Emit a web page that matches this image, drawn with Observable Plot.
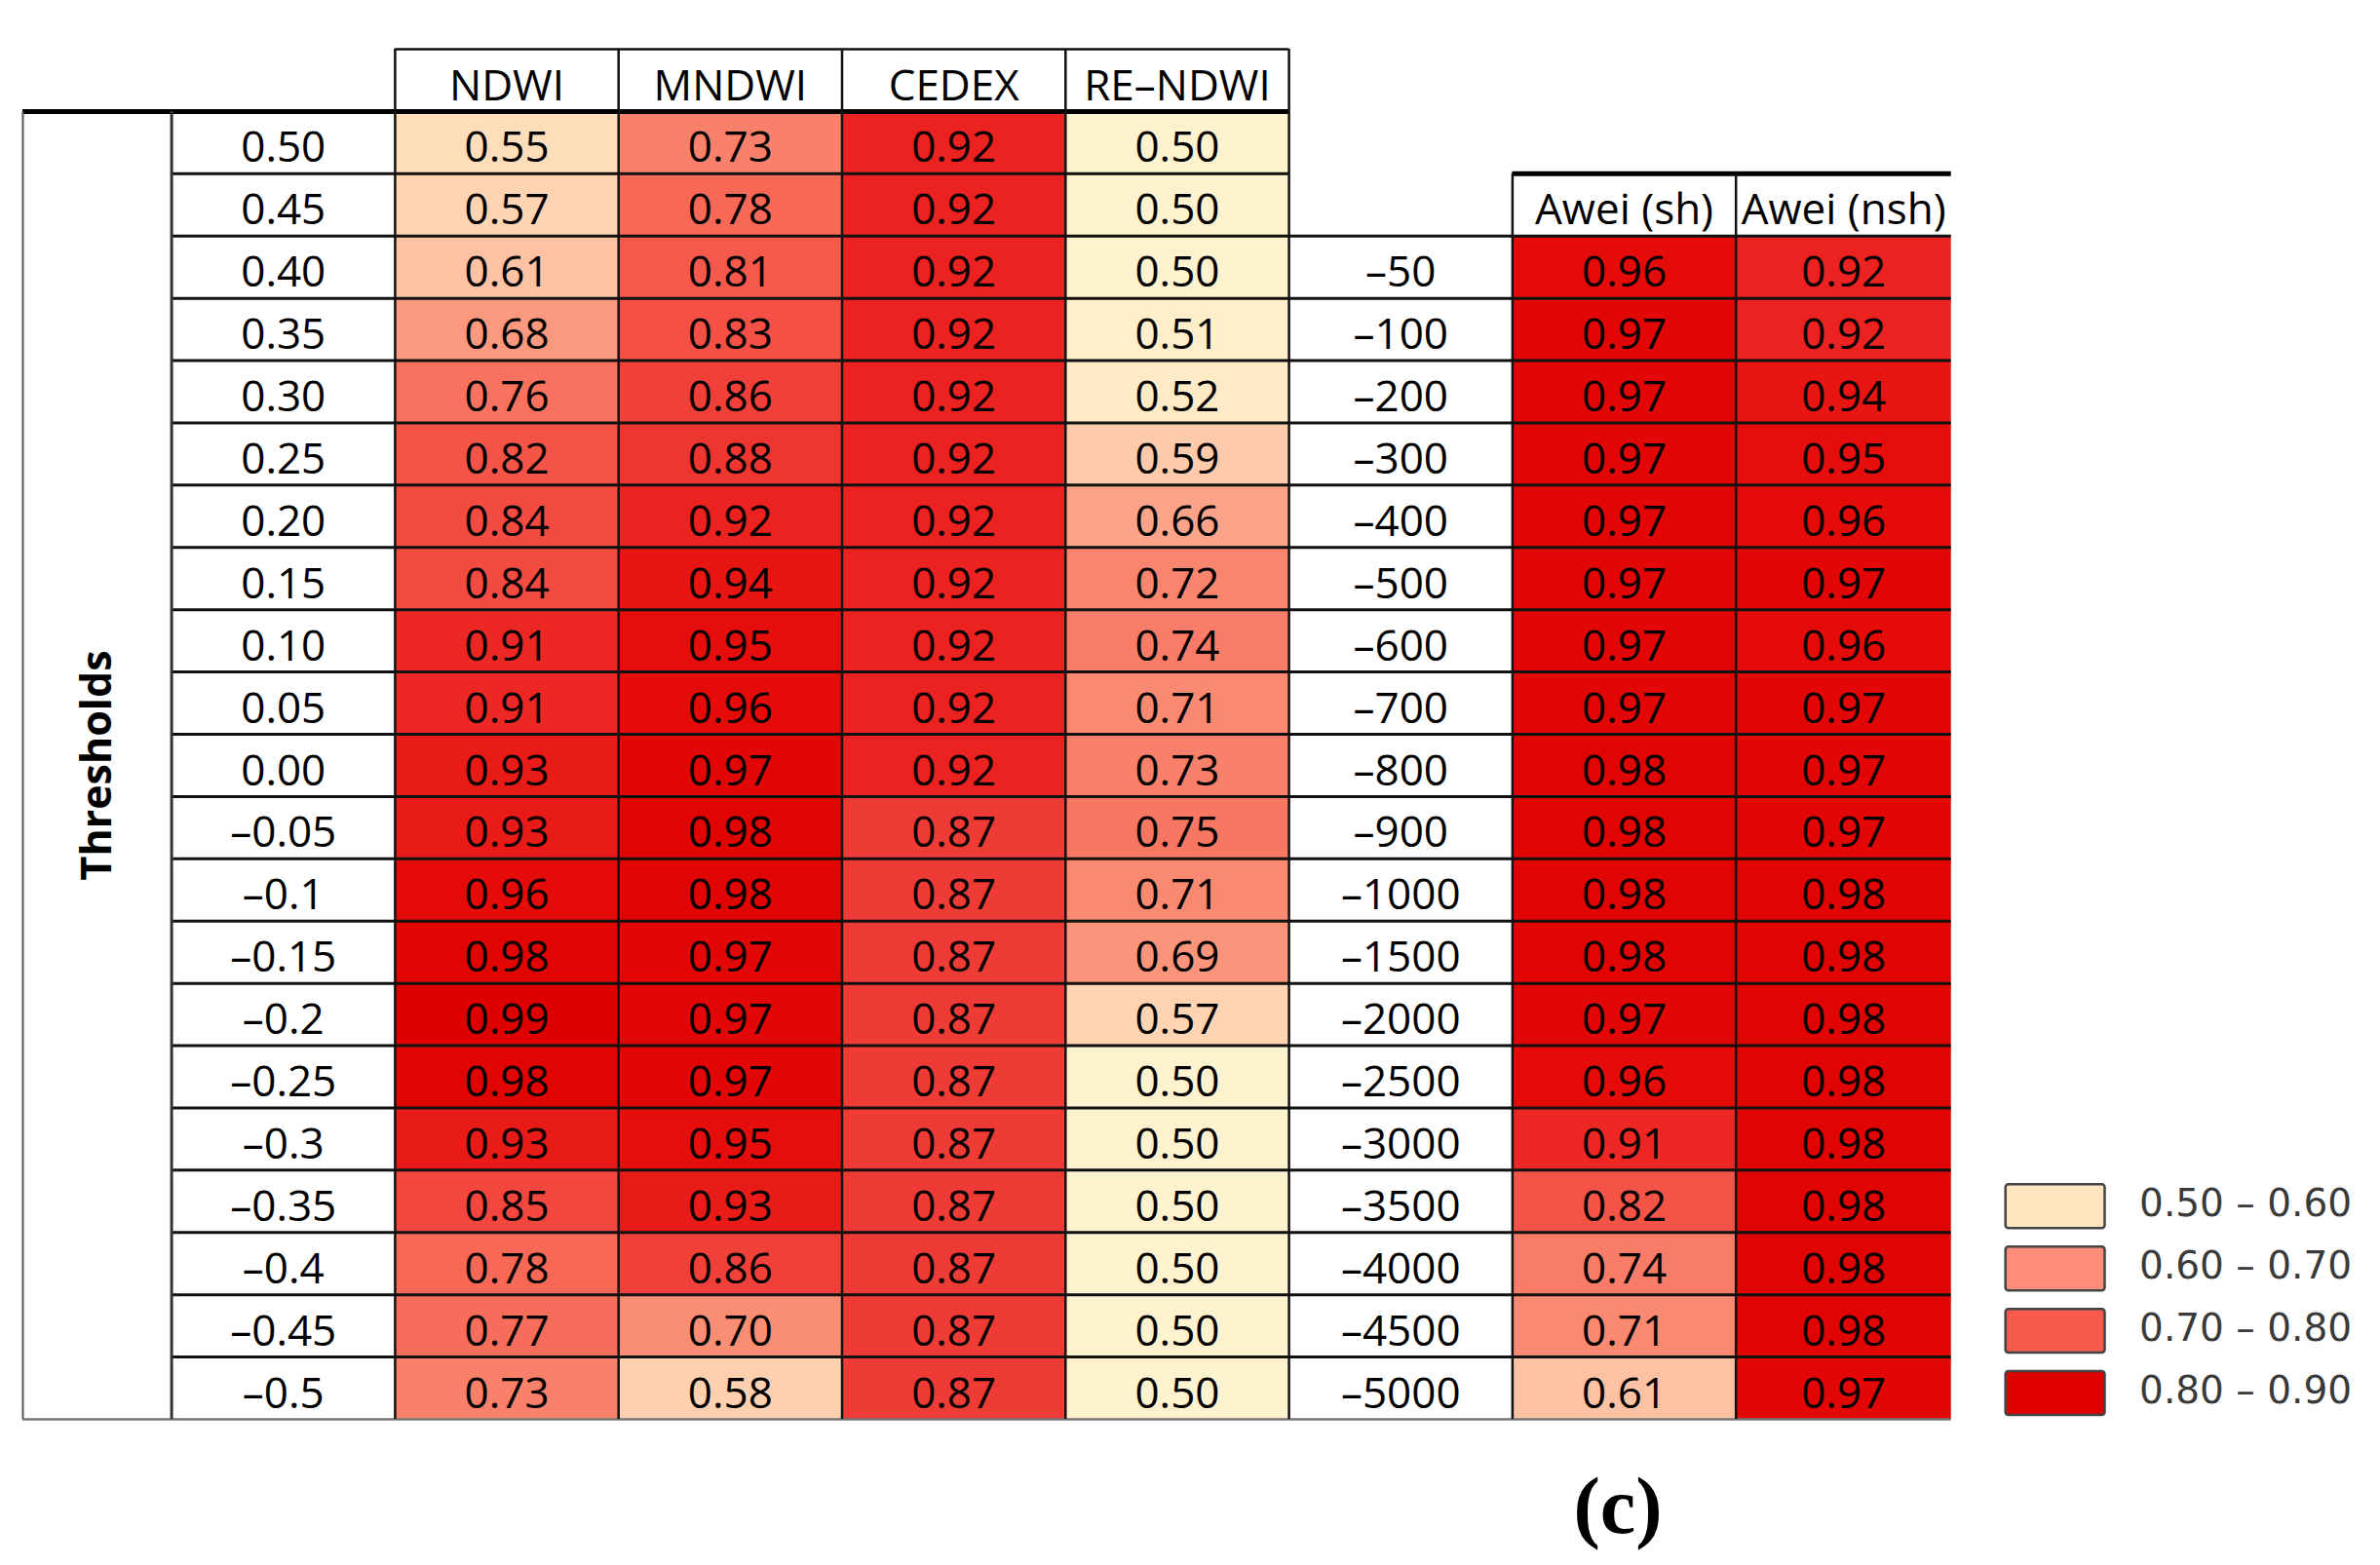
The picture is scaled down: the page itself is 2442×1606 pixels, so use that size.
<!DOCTYPE html>
<html>
<head>
<meta charset="utf-8">
<script src="https://cdn.jsdelivr.net/npm/d3@7"></script>
<script src="https://cdn.jsdelivr.net/npm/@observablehq/plot@0.6"></script>
<style>
  body { margin: 0; background: #fff; }
  #wrap { position: relative; width: 2442px; height: 1606px; }
  #cap { position: absolute; left: 1560px; width: 200px; top: 1496px; height: 100px;
         line-height: 100px; text-align: center; font-family: "Liberation Serif", serif;
         font-weight: bold; font-size: 82px; color: #000; }
</style>
</head>
<body>
<div id="wrap"><div id="chart"></div><div id="cap">(c)</div></div>
<script>
// ---------- data ----------
const leftHeaders = ["NDWI", "MNDWI", "CEDEX", "RE–NDWI"];
const thresholds = ["0.50","0.45","0.40","0.35","0.30","0.25","0.20","0.15","0.10","0.05","0.00",
  "–0.05","–0.1","–0.15","–0.2","–0.25","–0.3","–0.35","–0.4","–0.45","–0.5"];
const ndwi   = [0.55,0.57,0.61,0.68,0.76,0.82,0.84,0.84,0.91,0.91,0.93,0.93,0.96,0.98,0.99,0.98,0.93,0.85,0.78,0.77,0.73];
const mndwi  = [0.73,0.78,0.81,0.83,0.86,0.88,0.92,0.94,0.95,0.96,0.97,0.98,0.98,0.97,0.97,0.97,0.95,0.93,0.86,0.70,0.58];
const cedex  = [0.92,0.92,0.92,0.92,0.92,0.92,0.92,0.92,0.92,0.92,0.92,0.87,0.87,0.87,0.87,0.87,0.87,0.87,0.87,0.87,0.87];
const rendwi = [0.50,0.50,0.50,0.51,0.52,0.59,0.66,0.72,0.74,0.71,0.73,0.75,0.71,0.69,0.57,0.50,0.50,0.50,0.50,0.50,0.50];

const rightHeaders = ["Awei (sh)", "Awei (nsh)"];
const aweiThresholds = ["–50","–100","–200","–300","–400","–500","–600","–700","–800","–900","–1000",
  "–1500","–2000","–2500","–3000","–3500","–4000","–4500","–5000"];
const aweiSh  = [0.96,0.97,0.97,0.97,0.97,0.97,0.97,0.97,0.98,0.98,0.98,0.98,0.97,0.96,0.91,0.82,0.74,0.71,0.61];
const aweiNsh = [0.92,0.92,0.94,0.95,0.96,0.97,0.96,0.97,0.97,0.97,0.98,0.98,0.98,0.98,0.98,0.98,0.98,0.98,0.97];

const sideLabel = "Thresholds";
const legendLabels = ["0.50 – 0.60", "0.60 – 0.70", "0.70 – 0.80", "0.80 – 0.90"];
const legendColors = ["#FFE4C0", "#FD8C78", "#F85A4E", "#E00000"];

// colour-scale stops (Excel-style continuous scale)
const colorStops  = [0.50, 0.55, 0.60, 0.65, 0.70, 0.75, 0.80, 0.85, 0.88, 0.92, 0.95, 0.99];
const colorRange  = ["#FFF2CE","#FEDDBA","#FDC7A8","#FCAA8F","#FA8E75","#F87763","#F65E4F","#F2463E","#EE3530","#EB2220","#E60E0C","#DE0000"];

// ---------- layout (column / row units) ----------
const sideX1 = -0.6655, lastColW = 0.964;
const leftRows = thresholds.length;          // 21
const nRows = leftRows + 1;                  // + header row
const rightStart = nRows - aweiThresholds.length; // first right data row
const legendStart = nRows - legendLabels.length;

// cells
const cells = [];
[ndwi, mndwi, cedex, rendwi].forEach((vals, i) =>
  vals.forEach((v, r) => cells.push({x1: 1 + i, x2: 2 + i, row: 1 + r, v})));
[aweiSh, aweiNsh].forEach((vals, j) =>
  vals.forEach((v, r) => cells.push({x1: 6 + j, x2: j === 1 ? 7 + lastColW : 7, row: rightStart + r, v})));

const labels = [
  ...thresholds.map((t, r) => ({x: 0.5, row: 1 + r, t})),
  ...aweiThresholds.map((t, r) => ({x: 5.5, row: rightStart + r, t})),
  ...leftHeaders.map((t, i) => ({x: 1.5 + i, row: 0, t})),
  ...rightHeaders.map((t, j) => ({x: j === 1 ? 7 + lastColW / 2 : 6.5, row: rightStart - 1, t}))
];

const right2 = 7 + lastColW;
const hLines = [
  {y: 0, x1: 1, x2: 5, w: 2.5, c: "#111"},
  {y: 1, x1: sideX1, x2: 5, w: 5, c: "#000"},
  {y: 2, x1: 0, x2: 5, w: 3, c: "#111"},
  {y: rightStart - 1, x1: 6, x2: right2, w: 5, c: "#000"},
  ...d3.range(3, nRows).map(y => ({y, x1: 0, x2: right2, w: 3, c: "#111"})),
  {y: nRows, x1: sideX1, x2: right2, w: 2.5, c: "#777"}
];
const vLines = [
  {x: sideX1, y1: 1, y2: nRows, w: 2, c: "#555"},
  {x: 0, y1: 1, y2: nRows, w: 3, c: "#333"},
  ...[1, 2, 3, 4, 5].map(x => ({x, y1: 0, y2: nRows, w: 2.5, c: "#111"})),
  {x: 6, y1: rightStart - 1, y2: nRows, w: 2.5, c: "#111"},
  {x: 7, y1: rightStart - 1, y2: nRows, w: 2.5, c: "#111"}
];

const legendRows = legendLabels.map((label, i) => ({label, color: legendColors[i], row: legendStart + i}));

const font = "Open Sans";
const plot = Plot.plot({
  width: 2442, height: 1500,
  marginTop: 50, marginBottom: 44, marginLeft: 23, marginRight: 0,
  x: {domain: [sideX1, 9.884], axis: null},
  y: {domain: [nRows, 0], axis: null},
  color: {type: "linear", domain: colorStops, range: colorRange, interpolate: "rgb"},
  marks: [
    Plot.rect(cells, {x1: "x1", x2: "x2", y1: "row", y2: d => d.row + 1, fill: "v"}),
    Plot.ruleY(hLines, {y: "y", x1: "x1", x2: "x2", stroke: d => d.c, strokeWidth: d => d.w}),
    Plot.ruleX(vLines, {x: "x", y1: "y1", y2: "y2", stroke: d => d.c, strokeWidth: d => d.w}),
    Plot.text(cells, {x: d => (d.x1 + d.x2) / 2, y: d => d.row + 0.5, text: d => d.v.toFixed(2),
      fontFamily: font, fontSize: 44, fill: "#000", dy: 6}),
    Plot.text(labels, {x: "x", y: d => d.row + 0.5, text: "t", fontFamily: font, fontSize: 44, fill: "#000", dy: 6}),
    Plot.text([sideLabel], {x: () => sideX1 / 2, y: () => (1 + nRows) / 2, text: d => d, rotate: -90,
      fontFamily: font, fontWeight: "bold", fontSize: 43, fill: "#000"}),
    ...legendRows.map(d => Plot.rect([d], {x1: () => 8.208, x2: () => 8.652, y1: () => d.row, y2: () => d.row + 1,
      insetTop: 15, insetBottom: 4, fill: d.color, stroke: "#444", strokeWidth: 2.5, rx: 3})),
    Plot.text(legendRows, {x: () => 8.805, y: d => d.row + 0.5, text: "label", textAnchor: "start",
      fontFamily: "DejaVu Sans", fontSize: 39, fill: "#3a3a3a", dy: 3})
  ]
});
document.getElementById("chart").appendChild(plot);
</script>
</body>
</html>
